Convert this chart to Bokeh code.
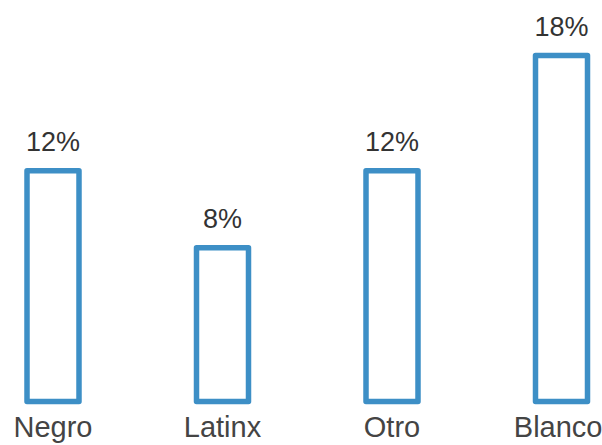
from bokeh.plotting import figure
from bokeh.models import Range1d, FixedTicker
from bokeh.core.properties import value
from bokeh.embed import file_html
from bokeh.resources import INLINE

categories = ["Negro", "Latinx", "Otro", "Blanco"]
values = [12, 8, 12, 18]
labels = ["12%", "8%", "12%", "18%"]

xs = list(range(len(categories)))
px_per_unit_x = 169.5
x_start = -52.5 / px_per_unit_x
x_end = x_start + 602 / px_per_unit_x

p = figure(width=602, height=445, output_backend="svg", toolbar_location=None,
           x_range=Range1d(x_start, x_end), y_range=Range1d(-0.314, 20.864),
           y_axis_location=None, min_border=0, min_border_left=0, min_border_right=0,
           min_border_top=0, min_border_bottom=0)
p.outline_line_color = None
p.xgrid.visible = False
p.ygrid.visible = False
p.background_fill_color = "white"
p.border_fill_color = "white"

bar_color = "#3d8fc6"
p.vbar(x=xs, top=values, bottom=0, width=52 / px_per_unit_x,
       fill_color="white", line_color=bar_color, line_width=5.5, line_join="round")

p.text(x=xs, y=values, text=labels, text_align="center", text_baseline="alphabetic",
       y_offset=-29, text_font=value("Liberation Sans"), text_font_size="27px",
       text_color="#333333")

ax = p.xaxis[0]
ax.ticker = FixedTicker(ticks=xs)
ax.major_label_overrides = {i: c for i, c in zip(xs, categories)}
ax.axis_line_color = None
ax.major_tick_line_color = None
ax.minor_tick_line_color = None
ax.major_tick_out = 0
ax.major_tick_in = 0
ax.major_label_standoff = 3
ax.major_label_text_font = "Liberation Sans"
ax.major_label_text_font_size = "29px"
ax.major_label_text_color = "#444444"

open("out.html", "w").write(file_html(p, INLINE))
